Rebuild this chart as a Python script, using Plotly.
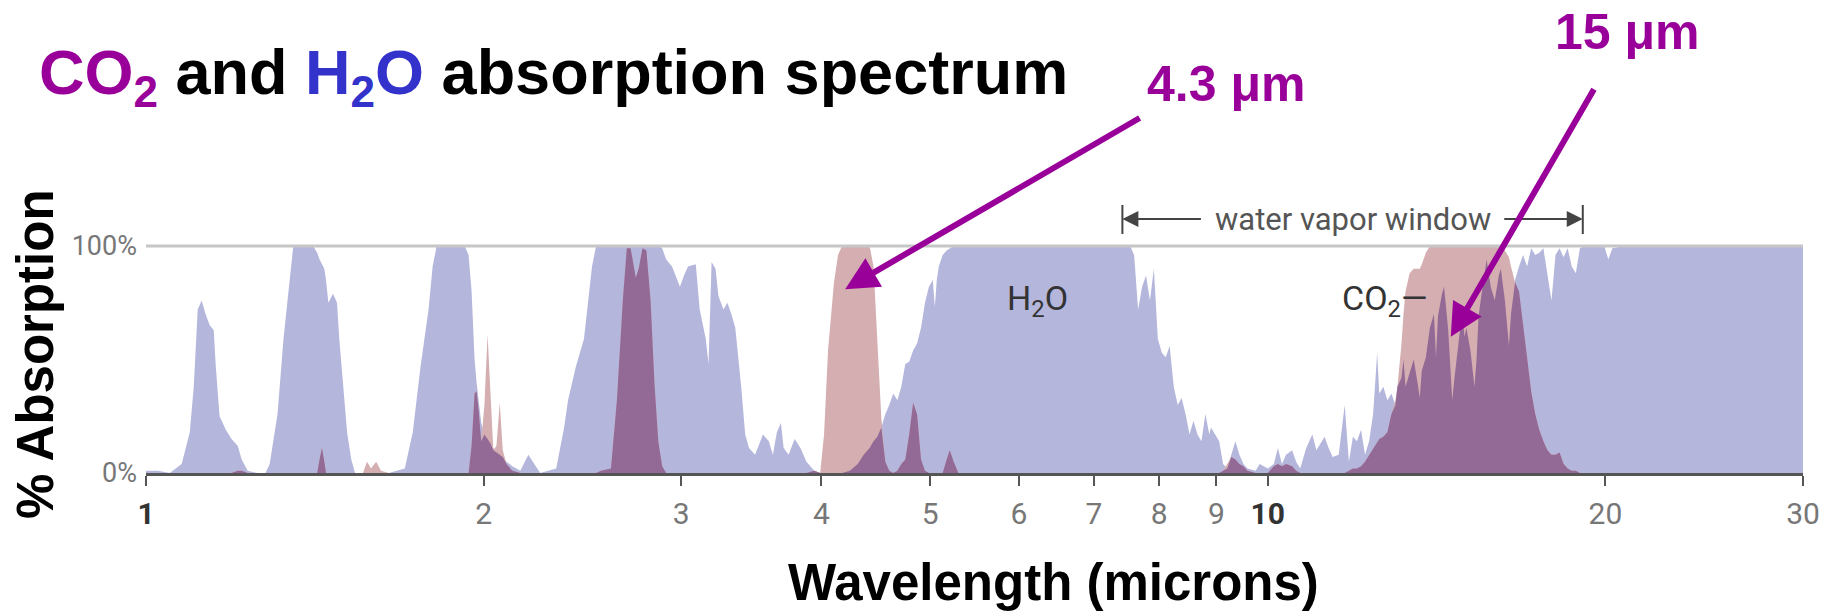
import numpy as np
import plotly.graph_objects as go

# ---- absorption spectrum (wavelength in microns, absorption in %) ----
wavelength_um = [
    1.000, 1.025, 1.050, 1.076, 1.094, 1.103, 1.112, 1.121, 1.130, 1.140,
    1.149, 1.154, 1.163, 1.178, 1.192, 1.207, 1.217, 1.232, 1.257, 1.278,
    1.289, 1.310, 1.326, 1.342, 1.353, 1.409, 1.421, 1.428, 1.435, 1.442,
    1.447, 1.454, 1.468, 1.480, 1.487, 1.499, 1.511, 1.524, 1.536, 1.561,
    1.574, 1.587, 1.604, 1.620, 1.646, 1.701, 1.729, 1.757, 1.786, 1.801,
    1.816, 1.923, 1.939, 1.951, 1.963, 1.971, 1.979, 1.990, 2.003, 2.016,
    2.028, 2.040, 2.053, 2.067, 2.080, 2.096, 2.121, 2.156, 2.192, 2.219,
    2.246, 2.321, 2.359, 2.378, 2.417, 2.457, 2.477, 2.498, 2.519, 2.544,
    2.597, 2.629, 2.661, 2.683, 2.704, 2.733, 2.749, 2.771, 2.793, 2.817,
    2.840, 2.862, 2.885, 2.909, 2.944, 2.992, 3.017, 3.042, 3.091, 3.116,
    3.155, 3.173, 3.193, 3.219, 3.238, 3.272, 3.298, 3.325, 3.352, 3.393,
    3.421, 3.448, 3.491, 3.548, 3.591, 3.621, 3.651, 3.681, 3.702, 3.740,
    3.786, 3.832, 3.879, 3.942, 3.990, 4.022, 4.055, 4.105, 4.139, 4.173,
    4.241, 4.310, 4.363, 4.416, 4.452, 4.487, 4.524, 4.561, 4.598, 4.636,
    4.675, 4.713, 4.752, 4.790, 4.829, 4.868, 4.908, 4.948, 4.988, 5.028,
    5.049, 5.069, 5.090, 5.131, 5.173, 5.206, 5.248, 5.299, 7.540, 7.601,
    7.663, 7.726, 7.789, 7.852, 7.915, 7.980, 8.045, 8.110, 8.176, 8.245,
    8.312, 8.379, 8.447, 8.516, 8.585, 8.657, 8.727, 8.798, 8.869, 8.900,
    8.974, 9.050, 9.124, 9.203, 9.279, 9.357, 9.434, 9.513, 9.592, 9.754,
    9.835, 10.000, 10.125, 10.210, 10.295, 10.382, 10.512, 10.600, 10.688, 10.822,
    10.957, 11.050, 11.143, 11.236, 11.330, 11.424, 11.567, 11.711, 11.811, 11.910,
    12.009, 12.109, 12.209, 12.312, 12.414, 12.518, 12.572, 12.677, 12.783, 12.889,
    12.996, 13.050, 13.159, 13.213, 13.268, 13.379, 13.493, 13.606, 13.662, 13.719,
    13.833, 13.949, 14.064, 14.123, 14.182, 14.300, 14.360, 14.482, 14.603, 14.664,
    14.786, 14.909, 14.971, 15.033, 15.158, 15.285, 15.350, 15.413, 15.542, 15.672,
    15.803, 15.934, 16.067, 16.134, 16.269, 16.406, 16.475, 16.612, 16.749, 16.888,
    17.029, 17.171, 17.314, 17.458, 17.607, 17.754, 17.902, 18.051, 18.201, 18.353,
    18.506, 18.664, 18.820, 18.977, 19.135, 19.953, 20.118, 20.286, 20.790, 30.000,
]

h2o_absorption = [
    1, 1, 0, 4, 18, 38, 72, 76, 70, 65,
    63, 47, 25, 19, 15, 12, 6, 1, 0, 0,
    4, 26, 59, 84, 100, 100, 97, 94, 92, 90,
    85, 75, 79, 75, 59, 38, 18, 6, 0, 0,
    0, 0, 0, 0, 0, 2, 18, 47, 72, 91,
    100, 100, 96, 80, 50, 40, 33, 22, 17, 15,
    13, 11, 9, 8, 7, 5, 3, 1, 8, 4,
    0, 2, 20, 32, 47, 59, 76, 91, 100, 100,
    100, 100, 100, 100, 100, 100, 100, 100, 100, 100,
    100, 100, 99, 94, 91, 82, 87, 91, 92, 72,
    59, 48, 93, 90, 78, 72, 75, 70, 64, 38,
    17, 11, 8, 17, 14, 8, 18, 22, 11, 8,
    15, 11, 5, 1, 0, 0, 0, 0, 0, 0,
    1, 4, 8, 11, 14, 16, 20, 26, 30, 35,
    32, 38, 48, 49, 54, 57, 64, 75, 82, 85,
    73, 85, 91, 96, 98, 99, 100, 100, 100, 96,
    72, 82, 87, 76, 90, 59, 53, 51, 56, 38,
    30, 33, 26, 17, 23, 17, 14, 26, 17, 20,
    17, 14, 4, 2, 8, 14, 8, 4, 2, 1,
    4, 2, 4, 11, 4, 8, 10, 5, 2, 11,
    17, 10, 13, 16, 11, 7, 8, 30, 5, 16,
    14, 19, 8, 14, 26, 53, 35, 38, 32, 35,
    30, 38, 42, 50, 38, 44, 50, 39, 33, 45,
    51, 64, 70, 51, 69, 79, 82, 63, 32, 41,
    58, 72, 60, 64, 54, 38, 50, 69, 82, 94,
    82, 76, 87, 90, 76, 56, 70, 85, 91, 96,
    91, 99, 96, 97, 99, 88, 76, 96, 99, 95,
    99, 91, 88, 99, 100, 100, 94, 99, 100, 100,
]

co2_absorption = [
    0, 0, 0, 0, 0, 0, 0, 0, 0, 0,
    0, 0, 0, 0, 0, 1, 1, 0, 0, 0,
    0, 0, 0, 0, 0, 0, 0, 6, 11, 5,
    0, 0, 0, 0, 0, 0, 0, 0, 0, 0,
    5, 2, 5, 1, 0, 0, 0, 0, 0, 0,
    0, 0, 0, 12, 35, 36, 28, 14, 30, 61,
    35, 10, 12, 31, 10, 4, 1, 0, 0, 0,
    0, 0, 0, 0, 0, 0, 0, 0, 0, 1,
    2, 32, 76, 99, 99, 86, 90, 99, 98, 76,
    39, 14, 3, 0, 0, 0, 0, 0, 0, 0,
    0, 0, 0, 0, 0, 0, 0, 0, 0, 0,
    0, 0, 0, 0, 0, 0, 0, 0, 0, 0,
    0, 0, 0, 1, 0, 17, 54, 84, 96, 100,
    100, 100, 100, 100, 91, 61, 24, 5, 1, 0,
    1, 4, 6, 17, 31, 26, 6, 1, 0, 0,
    0, 0, 0, 0, 6, 10, 5, 0, 0, 0,
    0, 0, 0, 0, 0, 0, 0, 0, 0, 0,
    0, 0, 0, 0, 0, 0, 0, 0, 0, 0,
    0, 0, 1, 4, 7, 6, 4, 3, 1, 0,
    0, 0, 3, 4, 3, 4, 3, 1, 0, 0,
    0, 0, 0, 0, 0, 0, 0, 0, 1, 2,
    2, 3, 5, 8, 11, 14, 15, 16, 18, 26,
    32, 38, 57, 70, 80, 88, 90, 90, 90, 92,
    97, 100, 100, 100, 100, 100, 100, 100, 100, 100,
    100, 100, 100, 100, 100, 100, 100, 100, 100, 100,
    100, 100, 100, 100, 98, 95, 91, 84, 80, 66,
    50, 36, 26, 19, 14, 10, 8, 8, 9, 4,
    2, 1, 1, 0, 0, 0, 0, 0, 0, 0,
]

# ---- axis ticks ----
x_tick_values = [1, 2, 3, 4, 5, 6, 7, 8, 9, 10, 20, 30]
x_tick_labels = ["<span style='color:#333333'><b>1</b></span>", "2", "3", "4", "5",
                 "6", "7", "8", "9", "<span style='color:#333333'><b>10</b></span>",
                 "20", "30"]
y_tick_values = [0, 100]
y_tick_labels = ["0%", "100%"]

# ---- annotated features ----
window_um = [7.42, 19.09]          # water vapor window span
band_43_tip = (4.2, 81)            # arrow tip inside the 4.3 micron band
band_15_tip = (14.56, 60)          # arrow tip inside the 15 micron band

# ---- styling ----
H2O_FILL = "#b4b6dc"
CO2_FILL = "#d4aeb0"
BOTH_FILL = "#936996"
PURPLE = "#990099"
BLUE = "#3333cc"
BOLD_FONT = "Liberation Sans, Arial, sans-serif"
NARROW_FONT = "Roboto, Liberation Sans Narrow, sans-serif"

W, H = 1835, 614
M_L, M_R, M_T, M_B = 146, 32, 246, 141
X_MAX = 30

h2o = np.array(h2o_absorption, dtype=float)
co2 = np.array(co2_absorption, dtype=float)
both = np.minimum(h2o, co2)

fig = go.Figure()
fig.add_trace(go.Scatter(x=wavelength_um, y=h2o, mode="lines", fill="tozeroy",
                         line=dict(width=0, color=H2O_FILL), fillcolor=H2O_FILL,
                         name="H2O", hoverinfo="skip"))
fig.add_trace(go.Scatter(x=wavelength_um, y=co2, mode="lines", fill="tozeroy",
                         line=dict(width=0, color=CO2_FILL), fillcolor=CO2_FILL,
                         name="CO2", hoverinfo="skip"))
fig.add_trace(go.Scatter(x=wavelength_um, y=both, mode="lines", fill="tozeroy",
                         line=dict(width=0, color=BOTH_FILL), fillcolor=BOTH_FILL,
                         name="CO2 + H2O", hoverinfo="skip"))

log_max = np.log10(X_MAX)


def paper_x(um):
    return float(np.log10(um) / log_max)


def px_to_paper_y(py):
    return (H - M_B - py) / (H - M_B - M_T)


def px_to_paper_x(px):
    return (px - M_L) / (W - M_L - M_R)


def label(**kw):
    kw.setdefault("showarrow", False)
    kw.setdefault("xanchor", "center")
    kw.setdefault("yanchor", "middle")
    fig.add_annotation(**kw)


# 100% reference line
fig.add_shape(type="line", xref="paper", yref="paper", x0=0, x1=1, y0=1, y1=1,
              line=dict(color="#c6c6c6", width=3), layer="above")

# water vapor window bracket
wy0, wy1, wy = px_to_paper_y(234), px_to_paper_y(205), px_to_paper_y(219)
for um in window_um:
    fig.add_shape(type="line", xref="paper", yref="paper",
                  x0=paper_x(um), x1=paper_x(um), y0=wy0, y1=wy1,
                  line=dict(color="#444444", width=2))
fig.add_annotation(xref="paper", yref="paper", x=paper_x(window_um[0]), y=wy,
                   ax=80, ay=0, axref="pixel", ayref="pixel", text="",
                   showarrow=True, arrowhead=2, arrowsize=1.6, arrowwidth=2,
                   arrowcolor="#444444")
fig.add_annotation(xref="paper", yref="paper", x=paper_x(window_um[1]), y=wy,
                   ax=-80, ay=0, axref="pixel", ayref="pixel", text="",
                   showarrow=True, arrowhead=2, arrowsize=1.6, arrowwidth=2,
                   arrowcolor="#444444")
label(xref="paper", yref="paper",
      x=paper_x(float(np.sqrt(window_um[0] * window_um[1]))), y=wy,
      text="water vapor window",
      font=dict(family=NARROW_FONT, size=31, color="#555555"))

# band labels inside the plot
label(xref="x", yref="y", x=np.log10(6.23), y=76, text="H<sub>2</sub>O",
      font=dict(family=NARROW_FONT, size=34, color="#333333"))
label(xref="x", yref="y", x=np.log10(12.7), y=76, text="CO<sub>2</sub>\u2014",
      font=dict(family=NARROW_FONT, size=34, color="#333333"))

# purple callouts
fig.add_annotation(xref="x", yref="y", x=np.log10(band_43_tip[0]), y=band_43_tip[1],
                   ax=296, ay=-172, axref="pixel", ayref="pixel", text="",
                   showarrow=True, arrowhead=2, arrowsize=1.1, arrowwidth=6,
                   arrowcolor=PURPLE)
fig.add_annotation(xref="x", yref="y", x=np.log10(band_15_tip[0]), y=band_15_tip[1],
                   ax=144, ay=-249, axref="pixel", ayref="pixel", text="",
                   showarrow=True, arrowhead=2, arrowsize=1.1, arrowwidth=6,
                   arrowcolor=PURPLE)
label(xref="paper", yref="paper", x=px_to_paper_x(1226), y=px_to_paper_y(84),
      text="<b>4.3 \u03bcm</b>", font=dict(family=BOLD_FONT, size=50, color=PURPLE))
label(xref="paper", yref="paper", x=px_to_paper_x(1627), y=px_to_paper_y(32),
      text="<b>15 \u03bcm</b>", font=dict(family=BOLD_FONT, size=50, color=PURPLE))

# title
label(xref="paper", yref="paper", x=px_to_paper_x(37), y=px_to_paper_y(76),
      xanchor="left",
      text=(f"<b><span style='color:{PURPLE}'>CO<sub>2</sub></span> and "
            f"<span style='color:{BLUE}'>H<sub>2</sub>O</span> absorption spectrum</b>"),
      font=dict(family=BOLD_FONT, size=63, color="black"))

# axis titles
label(xref="paper", yref="paper", x=px_to_paper_x(35), y=px_to_paper_y(354),
      text="<b>% Absorption</b>", textangle=-90,
      font=dict(family=BOLD_FONT, size=51, color="black"))
label(xref="paper", yref="paper", x=px_to_paper_x(1053), y=px_to_paper_y(582),
      text="<b>Wavelength (microns)</b>",
      font=dict(family=BOLD_FONT, size=51, color="black"))

fig.update_layout(
    width=W, height=H, autosize=False,
    margin=dict(l=M_L, r=M_R, t=M_T, b=M_B, pad=0),
    paper_bgcolor="white", plot_bgcolor="white",
    showlegend=False,
    xaxis=dict(type="log", range=[0, log_max], tickvals=x_tick_values,
               ticktext=x_tick_labels, ticks="outside", ticklen=10, tickwidth=2,
               tickcolor="#555555", showline=True, linecolor="#555555", linewidth=3,
               showgrid=False, zeroline=False, ticklabelstandoff=2,
               tickfont=dict(family=NARROW_FONT, size=30, color="#777777")),
    yaxis=dict(range=[0, 100], tickvals=y_tick_values, ticktext=y_tick_labels,
               ticks="", showline=False, showgrid=False, zeroline=False,
               ticklabelstandoff=8,
               tickfont=dict(family=NARROW_FONT, size=27, color="#777777")),
)

fig.write_html("out.html")
